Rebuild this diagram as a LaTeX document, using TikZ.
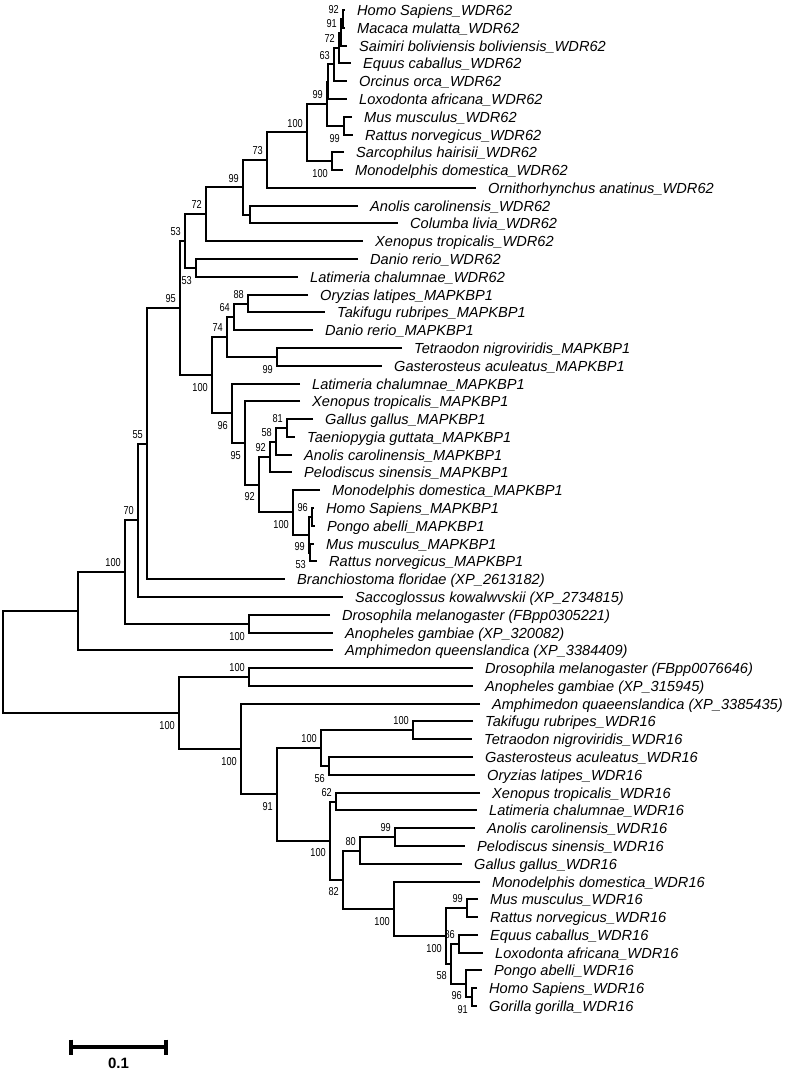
\documentclass[tikz,border=0pt]{standalone}
\usepackage{fontspec}
\setmainfont{Liberation Sans}
\newfontfamily\bootfam[FakeStretch=0.8]{Liberation Sans}
\usetikzlibrary{calc}
\tikzset{
  branch/.style={line width=2pt},
  leaf/.style={anchor=base west, inner sep=0pt, xshift=12pt, yshift=-5pt, font=\fontsize{14.6}{18}\selectfont\itshape},
  boot/.style={inner sep=0pt, font=\bootfam\fontsize{11.5}{13}\selectfont},
  bootabove/.style={boot, anchor=south east, xshift=-4pt, yshift=5pt},
  bootbelow/.style={boot, anchor=north east, xshift=-4pt, yshift=-8pt},
  scalebar/.style={line width=4.5pt},
}
% leaf: name, tip x, row, label
\newcommand{\taxon}[4]{%
  \coordinate (#1) at (#2,{round(10+(#3-1)*17.786)});
  \node[leaf] (#1-txt) at (#1) {#4};
}
% clade: name, x, upper child, lower child, support, above/below
\newcommand{\clade}[6]{%
  \coordinate (#1-mid) at ($(#3)!.5!(#4)$);
  \coordinate (#1) at (perpendicular cs: horizontal line through={(#1-mid)}, vertical line through={(#2,0)});
  \draw[branch] (#3) -| (#1) |- (#4);
  \if\relax\detokenize{#5}\relax\else\node[boot#6] (#1-bs) at (#1) {#5};\fi
}

\begin{document}
\begin{tikzpicture}[x=1pt, y=-1pt]
  \useasboundingbox (0,0) rectangle (787,1072);
  \taxon{homA}{345}{1}{Homo Sapiens\_WDR62}
  \taxon{macA}{345}{2}{Macaca mulatta\_WDR62}
  \taxon{saiA}{347}{3}{Saimiri boliviensis boliviensis\_WDR62}
  \taxon{equA}{351}{4}{Equus caballus\_WDR62}
  \taxon{orcA}{347}{5}{Orcinus orca\_WDR62}
  \taxon{loxA}{347}{6}{Loxodonta africana\_WDR62}
  \taxon{musA}{352}{7}{Mus musculus\_WDR62}
  \taxon{ratA}{353}{8}{Rattus norvegicus\_WDR62}
  \taxon{sarA}{344}{9}{Sarcophilus hairisii\_WDR62}
  \taxon{monA}{343}{10}{Monodelphis domestica\_WDR62}
  \taxon{ornA}{476}{11}{Ornithorhynchus anatinus\_WDR62}
  \taxon{anoA}{358}{12}{Anolis carolinensis\_WDR62}
  \taxon{colA}{398}{13}{Columba livia\_WDR62}
  \taxon{xenA}{363}{14}{Xenopus tropicalis\_WDR62}
  \taxon{danA}{358}{15}{Danio rerio\_WDR62}
  \taxon{latA}{298}{16}{Latimeria chalumnae\_WDR62}
  \taxon{oryB}{308}{17}{Oryzias latipes\_MAPKBP1}
  \taxon{takB}{325}{18}{Takifugu rubripes\_MAPKBP1}
  \taxon{danB}{313}{19}{Danio rerio\_MAPKBP1}
  \taxon{tetB}{402}{20}{Tetraodon nigroviridis\_MAPKBP1}
  \taxon{gasB}{382}{21}{Gasterosteus aculeatus\_MAPKBP1}
  \taxon{latB}{300}{22}{Latimeria chalumnae\_MAPKBP1}
  \taxon{xenB}{300}{23}{Xenopus tropicalis\_MAPKBP1}
  \taxon{galB}{313}{24}{Gallus gallus\_MAPKBP1}
  \taxon{taeB}{295}{25}{Taeniopygia guttata\_MAPKBP1}
  \taxon{anoB}{292}{26}{Anolis carolinensis\_MAPKBP1}
  \taxon{pelB}{292}{27}{Pelodiscus sinensis\_MAPKBP1}
  \taxon{monB}{320}{28}{Monodelphis domestica\_MAPKBP1}
  \taxon{homB}{314}{29}{Homo Sapiens\_MAPKBP1}
  \taxon{ponB}{315}{30}{Pongo abelli\_MAPKBP1}
  \taxon{musB}{314}{31}{Mus musculus\_MAPKBP1}
  \taxon{ratB}{317}{32}{Rattus norvegicus\_MAPKBP1}
  \taxon{bra}{285}{33}{Branchiostoma floridae (XP\_2613182)}
  \taxon{sac}{343}{34}{Saccoglossus kowalwvskii (XP\_2734815)}
  \taxon{droA}{330}{35}{Drosophila melanogaster (FBpp0305221)}
  \taxon{anpA}{333}{36}{Anopheles gambiae (XP\_320082)}
  \taxon{ampA}{333}{37}{Amphimedon queenslandica (XP\_3384409)}
  \taxon{droC}{473}{38}{Drosophila melanogaster (FBpp0076646)}
  \taxon{anpC}{473}{39}{Anopheles gambiae (XP\_315945)}
  \taxon{ampC}{480}{40}{Amphimedon quaeenslandica (XP\_3385435)}
  \taxon{takC}{473}{41}{Takifugu rubripes\_WDR16}
  \taxon{tetC}{472}{42}{Tetraodon nigroviridis\_WDR16}
  \taxon{gasC}{473}{43}{Gasterosteus aculeatus\_WDR16}
  \taxon{oryC}{475}{44}{Oryzias latipes\_WDR16}
  \taxon{xenC}{480}{45}{Xenopus tropicalis\_WDR16}
  \taxon{latC}{477}{46}{Latimeria chalumnae\_WDR16}
  \taxon{anoC}{475}{47}{Anolis carolinensis\_WDR16}
  \taxon{pelC}{465}{48}{Pelodiscus sinensis\_WDR16}
  \taxon{galC}{462}{49}{Gallus gallus\_WDR16}
  \taxon{monC}{480}{50}{Monodelphis domestica\_WDR16}
  \taxon{musC}{478}{51}{Mus musculus\_WDR16}
  \taxon{ratC}{478}{52}{Rattus norvegicus\_WDR16}
  \taxon{equC}{478}{53}{Equus caballus\_WDR16}
  \taxon{loxC}{483}{54}{Loxodonta africana\_WDR16}
  \taxon{ponC}{482}{55}{Pongo abelli\_WDR16}
  \taxon{homC}{477}{56}{Homo Sapiens\_WDR16}
  \taxon{gorC}{477}{57}{Gorilla gorilla\_WDR16}
  % WDR62
  \clade{a92}{343}{homA}{macA}{92}{above}
  \clade{a91}{341}{a92}{saiA}{91}{above}
  \clade{a72}{339}{a91}{equA}{72}{above}
  \clade{a63}{334}{a72}{orcA}{63}{above}
  \clade{aX}{328}{a63}{loxA}{}{above}
  \clade{aMR}{344}{musA}{ratA}{99}{below}
  \clade{aEut}{327}{aX}{aMR}{99}{above}
  \clade{aMar}{332}{sarA}{monA}{100}{below}
  \clade{aThe}{307}{aEut}{aMar}{100}{above}
  \clade{aMam}{267}{aThe}{ornA}{73}{above}
  \clade{aSau}{250}{anoA}{colA}{}{below}
  \clade{aAmn}{243}{aMam}{aSau}{99}{above}
  \clade{aTet}{206}{aAmn}{xenA}{72}{above}
  \clade{aDL}{196}{danA}{latA}{53}{below}
  \clade{aAll}{185}{aTet}{aDL}{53}{above}
  % MAPKBP1
  \clade{b88}{248}{oryB}{takB}{88}{above}
  \clade{b64}{234}{b88}{danB}{64}{above}
  \clade{bTG}{277}{tetB}{gasB}{99}{below}
  \clade{b74}{227}{b64}{bTG}{74}{above}
  \clade{b81}{287}{galB}{taeB}{81}{above}
  \clade{b58}{276}{b81}{anoB}{58}{above}
  \clade{bSau}{270}{b58}{pelB}{92}{above}
  \clade{bHP}{312}{homB}{ponB}{96}{above}
  \clade{bMR}{310}{musB}{ratB}{53}{below}
  \clade{bEut}{309}{bHP}{bMR}{99}{below}
  \clade{bMam}{293}{monB}{bEut}{100}{below}
  \clade{bAmn}{259}{bSau}{bMam}{92}{below}
  \clade{bTet}{245}{xenB}{bAmn}{95}{below}
  \clade{bSar}{232}{latB}{bTet}{96}{below}
  \clade{bAll}{212}{b74}{bSar}{100}{below}
  % outgroups of the upper half
  \clade{c95}{180}{aAll}{bAll}{95}{above}
  \clade{c55}{147}{c95}{bra}{55}{above}
  \clade{c70}{138}{c55}{sac}{70}{above}
  \clade{cDA}{249}{droA}{anpA}{100}{below}
  \clade{c100}{125}{c70}{cDA}{100}{above}
  \clade{cMet}{78}{c100}{ampA}{}{above}
  % WDR16
  \clade{dDA}{249}{droC}{anpC}{100}{above}
  \clade{dTT}{413}{takC}{tetC}{100}{above}
  \clade{dGO}{329}{gasC}{oryC}{56}{below}
  \clade{dFish}{321}{dTT}{dGO}{100}{above}
  \clade{dXL}{336}{xenC}{latC}{62}{above}
  \clade{dAP}{395}{anoC}{pelC}{99}{above}
  \clade{d80}{360}{dAP}{galC}{80}{above}
  \clade{dMR}{467}{musC}{ratC}{99}{above}
  \clade{dEL}{459}{equC}{loxC}{86}{above}
  \clade{dHG}{472}{homC}{gorC}{91}{below}
  \clade{dHom}{466}{ponC}{dHG}{96}{below}
  \clade{d58}{451}{dEL}{dHom}{58}{below}
  \clade{dEut}{446}{dMR}{d58}{100}{below}
  \clade{dMam}{394}{monC}{dEut}{100}{below}
  \clade{dAmn}{343}{d80}{dMam}{82}{below}
  \clade{dTet}{330}{dXL}{dAmn}{100}{below}
  \clade{dVert}{277}{dFish}{dTet}{91}{below}
  \clade{dMet}{241}{ampC}{dVert}{100}{below}
  \clade{dAll}{179}{dDA}{dMet}{100}{below}
  \clade{root}{3}{cMet}{dAll}{}{above}
  % scale bar
  \coordinate (sbL) at (71,1047);
  \coordinate (sbR) at (166,1047);
  \draw[scalebar] (sbL) -- (sbR);
  \draw[scalebar] ($(sbL)+(0,-7.5)$) -- ($(sbL)+(0,7.5)$);
  \draw[scalebar] ($(sbR)+(0,-7.5)$) -- ($(sbR)+(0,7.5)$);
  \node[font=\bfseries\fontsize{15}{18}\selectfont, anchor=north, inner sep=0pt] (sbtxt) at ($(sbL)!.5!(sbR)+(0,11)$) {0.1};
\end{tikzpicture}
\end{document}
